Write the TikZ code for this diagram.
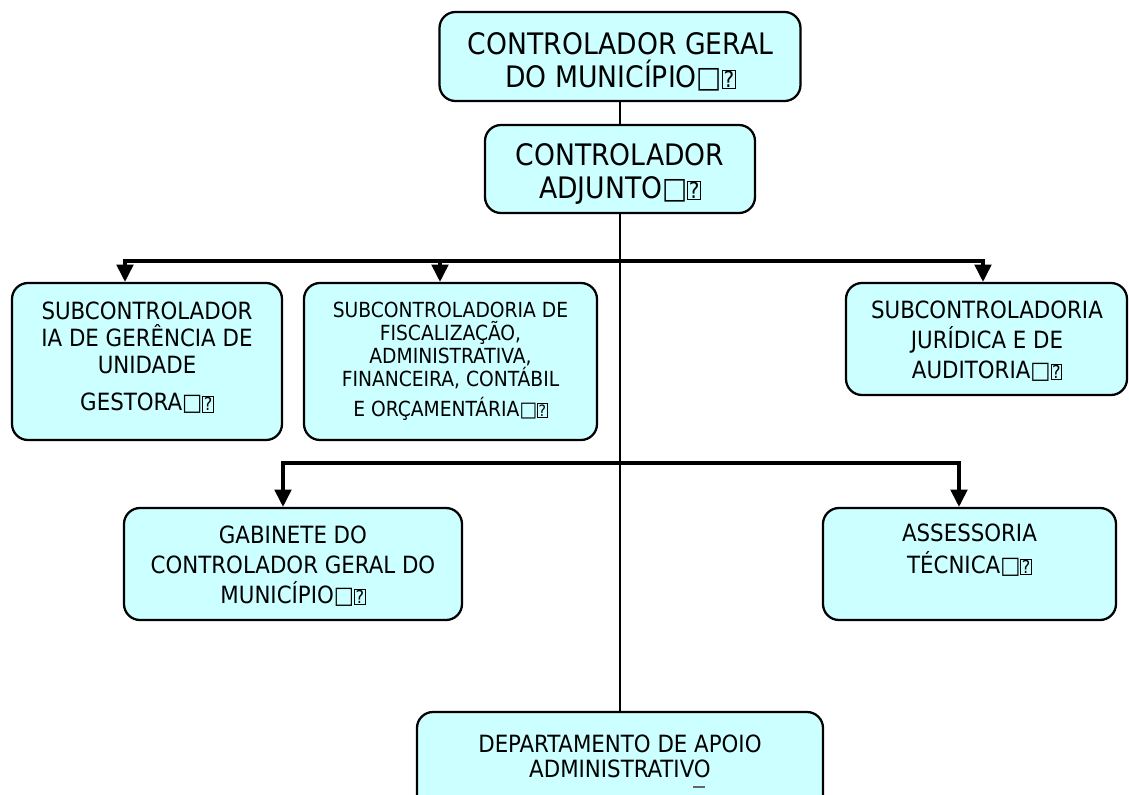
\documentclass[tikz,border=0pt]{standalone}
\usepackage{fontspec}
\setmainfont{DejaVu Sans Condensed}
\usepackage{graphicx}
\usetikzlibrary{arrows.meta}
\definecolor{boxfill}{HTML}{CCFFFF}
\newcommand\qglyph{{\setlength\fboxsep{0.6pt}\setlength\fboxrule{0.5pt}\fbox{\scalebox{0.75}{?}}}}
\newcommand\tailmark{□\qglyph}
\tikzset{
  orgbox/.style={draw=black, line width=1.7pt, fill=boxfill, rounded corners=12pt, inner sep=0pt},
  orgtext/.style={align=center, inner sep=0pt, text=black},
  trunk/.style={line width=1.6pt, draw=black},
  arr/.style={line width=2.4pt, draw=black, -{Triangle[length=13pt,width=12.5pt]}},
}
\begin{document}
\begin{tikzpicture}[x=0.75pt,y=-0.75pt]
\useasboundingbox (0,0) rectangle (1129,794);
\begin{scope}
\clip (0,0) rectangle (1129,794);
% boxes
\node[orgbox, minimum width=270.75pt, minimum height=66.75pt] (top) at (620,56.5) {};
\node[orgbox, minimum width=202.5pt, minimum height=66pt] (adj) at (620,169) {};
\node[orgbox, minimum width=202.5pt, minimum height=117.75pt] (sub1) at (147,361.5) {};
\node[orgbox, minimum width=219.75pt, minimum height=117.75pt] (sub2) at (450.5,361.5) {};
\node[orgbox, minimum width=210.75pt, minimum height=84pt] (sub3) at (986.5,339) {};
\node[orgbox, minimum width=253.5pt, minimum height=84pt] (gab) at (293,564) {};
\node[orgbox, minimum width=219.75pt, minimum height=84pt] (ass) at (969.5,564) {};
\node[orgbox, minimum width=304.5pt, minimum height=88.5pt] (dept) at (620,771) {};
% texts
\node[orgtext, font=\fontsize{22.2pt}{24.75pt}\selectfont] (topt) at (620.5,62) {CONTROLADOR GERAL\\DO MUNICÍPIO\tailmark};
\node[orgtext, font=\fontsize{22.2pt}{24.75pt}\selectfont] (adjt) at (620,174) {CONTROLADOR\\ADJUNTO\tailmark};
\node[orgtext, font=\fontsize{17.8pt}{20.25pt}\selectfont] (sub1t) at (147,358) {SUBCONTROLADOR\\IA DE GERÊNCIA DE\\UNIDADE\\[7.5pt]GESTORA\tailmark};
\node[orgtext, font=\fontsize{15.6pt}{17.25pt}\selectfont] (sub2t) at (450.5,361) {SUBCONTROLADORIA DE\\FISCALIZAÇÃO,\\ADMINISTRATIVA,\\FINANCEIRA, CONTÁBIL\\[5.25pt]E ORÇAMENTÁRIA\tailmark};
\node[orgtext, font=\fontsize{17.8pt}{22.5pt}\selectfont] (sub3t) at (987,341) {SUBCONTROLADORIA\\JURÍDICA E DE\\AUDITORIA\tailmark};
\node[orgtext, font=\fontsize{17.8pt}{22.5pt}\selectfont] (gabt) at (293,566) {GABINETE DO\\CONTROLADOR GERAL DO\\MUNICÍPIO\tailmark};
\node[orgtext, font=\fontsize{17.8pt}{24pt}\selectfont] (asst) at (969.5,550) {ASSESSORIA\\TÉCNICA\tailmark};
\node[orgtext, font=\fontsize{17.8pt}{18.75pt}\selectfont] (deptt) at (620,756) {DEPARTAMENTO DE APOIO\\ADMINISTRATIVO};
\draw[line width=0.8pt, draw=black!60] (693,787) -- (705,787);
% trunk
\draw[trunk] (top.south) -- (adj.north);
\draw[trunk] (adj.south) -- (dept.north);
% bus 1
\coordinate (j1) at (620,261);
\coordinate (b1) at (125,261);
\coordinate (b2) at (440,261);
\coordinate (b3) at (983,261);
\draw[arr] (j1) -| (b1 |- sub1.north);
\draw[arr] (j1) -| (b2 |- sub2.north);
\draw[arr] (j1) -| (b3 |- sub3.north);
% bus 2
\coordinate (j2) at (620,463);
\coordinate (c1) at (283,463);
\coordinate (c2) at (959,463);
\draw[arr] (j2) -| (c1 |- gab.north);
\draw[arr] (j2) -| (c2 |- ass.north);
\end{scope}
\end{tikzpicture}
\end{document}
